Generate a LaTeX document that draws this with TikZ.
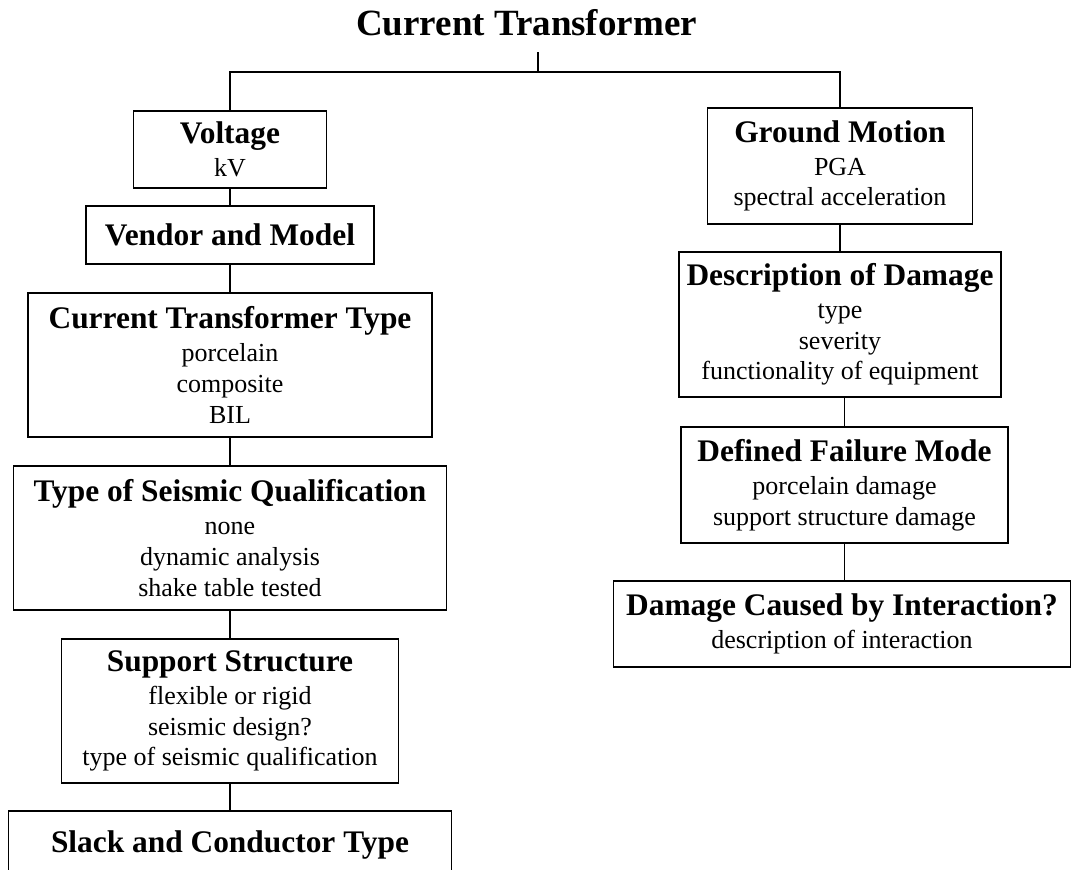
\documentclass[tikz,border=0pt]{standalone}
\usepackage{fontspec}
\setmainfont{Liberation Serif}
\newcommand{\hd}[1]{{\fontsize{15.7}{18}\selectfont\bfseries #1}}

\begin{document}
\begin{tikzpicture}[x=0.5pt, y=-0.5pt,
    box/.style={draw, line width=0.75pt, inner sep=0pt, align=center, font=\fontsize{13}{15.4}\selectfont}]
    \useasboundingbox (0,0) rectangle (1071,869);

    % title and the split into two columns
    \node[anchor=base, font=\fontsize{18.5}{22}\selectfont\bfseries] (title) at (526.5,35) {Current Transformer};
    \coordinate (stem) at (538,52);
    \coordinate (split) at (538,72);

    % left column
    \node[box, minimum width=96.5pt, minimum height=38.5pt] (volt) at (230,149.5) {\hd{Voltage}\\[1pt] kV};
    \node[box, minimum width=144pt, minimum height=29pt] (vendor) at (230,235) {\hd{Vendor and Model}};
    \node[box, minimum width=202pt, minimum height=72pt] (cttype) at (230,365) {\hd{Current Transformer Type}\\[1pt] porcelain\\ composite\\ BIL};
    \node[box, minimum width=216.5pt, minimum height=72pt] (seismic) at (230,538) {\hd{Type of Seismic Qualification}\\[1pt] none\\ dynamic analysis\\ shake table tested};
    \node[box, minimum width=168.5pt, minimum height=72pt] (support) at (230,711) {\hd{Support Structure}\\[1pt] flexible or rigid\\ seismic design?\\ type of seismic qualification};
    \node[box, minimum width=221.5pt, minimum height=34pt] (slack) at (230,845) {\hd{Slack and Conductor Type}};

    % right column
    \node[box, minimum width=132.5pt, minimum height=58pt] (ground) at (840,166) {\hd{Ground Motion}\\[1pt] PGA\\ spectral acceleration};
    \node[box, minimum width=161pt, minimum height=72.5pt] (descr) at (840,324.5) {\hd{Description of Damage}\\[1pt] type\\ severity\\ functionality of equipment};
    \node[box, minimum width=163.5pt, minimum height=58pt] (failure) at (844.5,485) {\hd{Defined Failure Mode}\\[1pt] porcelain damage\\ support structure damage};
    \node[box, minimum width=228.5pt, minimum height=43pt] (interact) at (842,624) {\hd{Damage Caused by Interaction?}\\[1pt] description of interaction};

    % connectors
    \draw[line width=0.75pt] (stem) -- (split);
    \draw[line width=0.75pt] (volt.north) |- (split) -| (ground.north);
    \draw[line width=0.75pt] (volt.south) -- (vendor.north);
    \draw[line width=0.75pt] (vendor.south) -- (cttype.north);
    \draw[line width=0.75pt] (cttype.south) -- (seismic.north);
    \draw[line width=0.75pt] (seismic.south) -- (support.north);
    \draw[line width=0.75pt] (support.south) -- (slack.north);
    \draw[line width=0.75pt] (ground.south) -- (descr.north);
    \draw[line width=0.75pt] (failure.north) -- (failure.north |- descr.south);
    \draw[line width=0.75pt] (failure.south) -- (failure.south |- interact.north);
\end{tikzpicture}
\end{document}
